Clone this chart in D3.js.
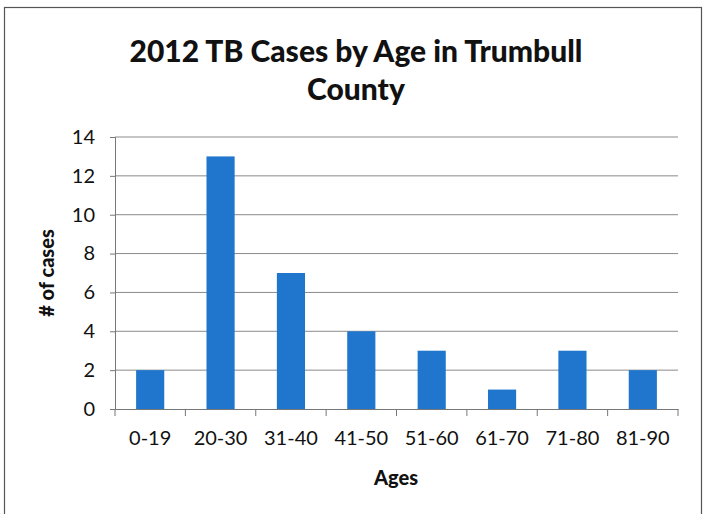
<!DOCTYPE html>
<html><head><meta charset="utf-8">
<script src="https://cdn.jsdelivr.net/npm/d3@7"></script>
<style>body{margin:0;background:#fff}svg{display:block}</style>
</head><body>
<script>
const categories = ["0-19","20-30","31-40","41-50","51-60","61-70","71-80","81-90"];
const cases = [2,13,7,4,3,1,3,2];
const yTicks = [0,2,4,6,8,10,12,14];
const titleLines = ["2012 TB Cases by Age in Trumbull","County"];

(function(){
const W=710,H=514;
const svg=d3.select("body").append("svg").attr("width",W).attr("height",H);
svg.append("rect").attr("x",4.5).attr("y",7.5).attr("width",697).attr("height",520)
  .attr("fill","#fff").attr("stroke","#555").attr("stroke-width",1.2);

const pL=115,pR=678,pT=137,pB=409;
const x=d3.scaleBand().domain(categories).range([pL,pR]).paddingInner(0.6).paddingOuter(0.3);
const y=d3.scaleLinear().domain([0,14]).range([pB,pT]);

const font="Lato, 'Open Sans', sans-serif";
svg.selectAll("text.title").data(titleLines).join("text")
  .attr("x",356).attr("y",(d,i)=>62+i*38).attr("text-anchor","middle")
  .attr("font-family",font).attr("font-weight","900").attr("font-size",30).attr("fill","#111")
  .text(d=>d);

svg.append("g").selectAll("line").data(yTicks.slice(1)).join("line")
  .attr("x1",pL).attr("x2",pR).attr("y1",d=>y(d)).attr("y2",d=>y(d))
  .attr("stroke","#8a8a8a").attr("stroke-width",1);

svg.append("g").selectAll("rect").data(cases).join("rect")
  .attr("x",(d,i)=>x(categories[i])).attr("width",x.bandwidth())
  .attr("y",d=>y(d)).attr("height",d=>y(0)-y(d)).attr("fill","#1f76cc");

const ya=svg.append("g").attr("transform",`translate(${pL},0)`)
  .call(d3.axisLeft(y).tickValues(yTicks).tickSize(5).tickPadding(15));
ya.select(".domain").attr("stroke","#777");
ya.selectAll(".tick line").attr("stroke","#777");
ya.selectAll("text").attr("font-family",font).attr("font-size",20).attr("fill","#111");

const xb=d3.scaleBand().domain(categories).range([pL,pR]);
const xa=svg.append("g").attr("transform",`translate(0,${pB})`)
  .call(d3.axisBottom(xb).tickSize(0).tickPadding(22));
xa.select(".domain").attr("stroke","#777");
xa.selectAll("text").attr("font-family",font).attr("font-size",20).attr("fill","#111");
svg.append("g").selectAll("line").data(d3.range(categories.length+1)).join("line")
  .attr("x1",i=>pL+i*xb.step()).attr("x2",i=>pL+i*xb.step())
  .attr("y1",pB).attr("y2",pB+7).attr("stroke","#777");

svg.append("text").attr("x",396).attr("y",485).attr("text-anchor","middle")
  .attr("font-family",font).attr("font-weight","900").attr("font-size",20).attr("fill","#111").text("Ages");
svg.append("text").attr("transform","translate(54,273) rotate(-90)").attr("text-anchor","middle")
  .attr("font-family",font).attr("font-weight","900").attr("font-size",20).attr("fill","#111").text("# of cases");
})();
</script>
</body></html>
